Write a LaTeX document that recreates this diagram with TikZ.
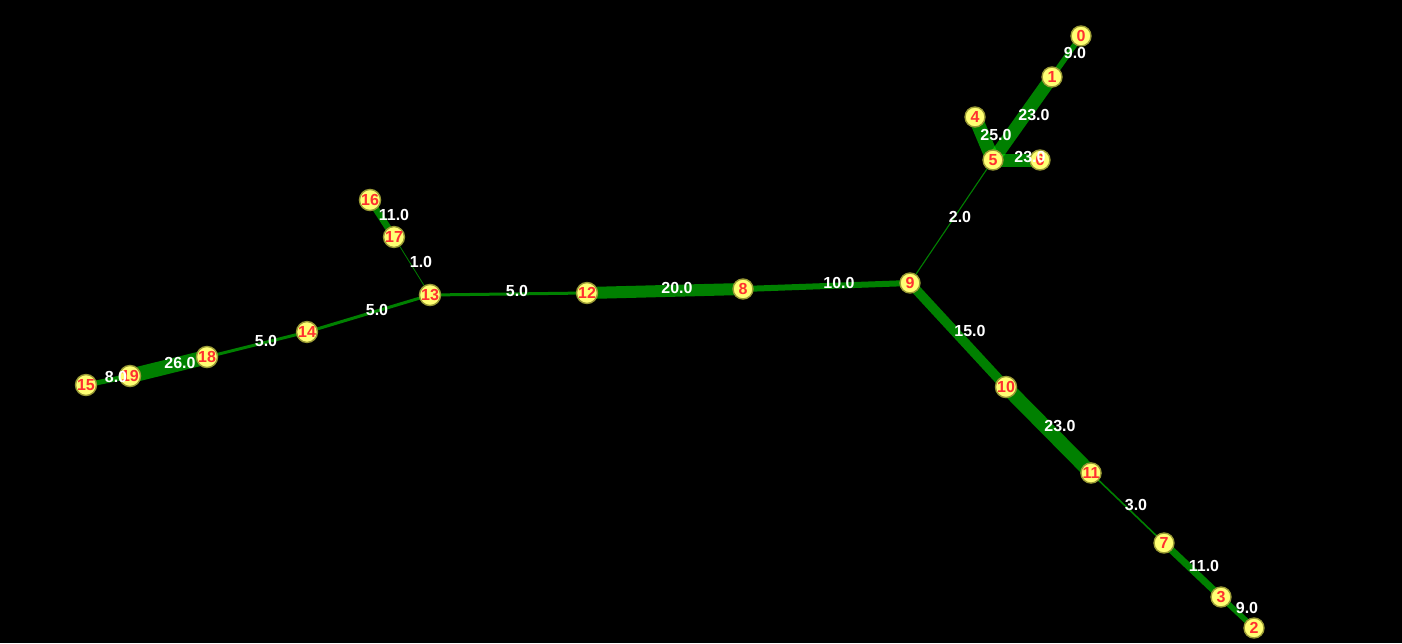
\documentclass[tikz,border=0pt]{standalone}
\usepackage{fontspec}
\setmainfont{Liberation Sans}
\usetikzlibrary{backgrounds}
\definecolor{nodefill}{HTML}{FFFF73}
\definecolor{nodeedge}{HTML}{9A9A35}
\definecolor{numred}{HTML}{FF3030}
\tikzset{
  vtx/.style={circle, fill=nodefill, draw=nodeedge, line width=1.4pt, minimum size=20pt, inner sep=0pt,
    text=numred, font=\bfseries\fontsize{16}{16}\selectfont},
  wlabel/.style={text=white, font=\bfseries\fontsize{16}{16}\selectfont, inner sep=0pt},
  edge/.style={draw={rgb,255:red,0;green,255;blue,0}, draw opacity=0.5}
}
\begin{document}
\begin{tikzpicture}[x=1pt,y=-1pt]
\useasboundingbox (0,0) rectangle (1402,643);
% vertices
\node[vtx] (n0) at (1081,36) {0};
\node[vtx] (n1) at (1052,77) {1};
\node[vtx] (n4) at (975,117) {4};
\node[vtx] (n6) at (1040,160) {6};
\node[vtx] (n5) at (993,160) {5};
\node[vtx] (n9) at (910,283) {9};
\node[vtx] (n8) at (743,289) {8};
\node[vtx] (n12) at (587,293) {12};
\node[vtx] (n13) at (430,295) {13};
\node[vtx] (n17) at (394,237) {17};
\node[vtx] (n16) at (370,200) {16};
\node[vtx] (n14) at (307,332) {14};
\node[vtx] (n18) at (207,357) {18};
\node[vtx] (n19) at (130,376) {19};
\node[vtx] (n15) at (86,385) {15};
\node[vtx] (n10) at (1006,387) {10};
\node[vtx] (n11) at (1091,473) {11};
\node[vtx] (n7) at (1164,543) {7};
\node[vtx] (n3) at (1221,597) {3};
\node[vtx] (n2) at (1254,628) {2};
% edges
\begin{scope}[on background layer]
\fill[black] (0,0) rectangle (1402,643);
\draw[edge, line width=5.4pt] (n0.center) -- (n1.center);
\draw[edge, line width=13pt] (n1.center) -- (n5.center);
\draw[edge, line width=14pt] (n4.center) -- (n5.center);
\draw[edge, line width=13pt] (n5.center) -- (n6.center);
\draw[edge, line width=1.1pt] (n5.center) -- (n9.center);
\draw[edge, line width=6pt] (n9.center) -- (n8.center);
\draw[edge, line width=12pt] (n8.center) -- (n12.center);
\draw[edge, line width=3pt] (n12.center) -- (n13.center);
\draw[edge, line width=0.8pt] (n13.center) -- (n17.center);
\draw[edge, line width=6.6pt] (n17.center) -- (n16.center);
\draw[edge, line width=3pt] (n13.center) -- (n14.center);
\draw[edge, line width=3pt] (n14.center) -- (n18.center);
\draw[edge, line width=14.5pt] (n18.center) -- (n19.center);
\draw[edge, line width=5pt] (n19.center) -- (n15.center);
\draw[edge, line width=9.5pt] (n9.center) -- (n10.center);
\draw[edge, line width=14pt] (n10.center) -- (n11.center);
\draw[edge, line width=1.6pt] (n11.center) -- (n7.center);
\draw[edge, line width=7pt] (n7.center) -- (n3.center);
\draw[edge, line width=5.4pt] (n3.center) -- (n2.center);
\end{scope}
% weight labels
\node[wlabel] (w01) at (1075,53) {9.0};
\node[wlabel] (w15) at (1034,115) {23.0};
\node[wlabel] (w45) at (996,135) {25.0};
\node[wlabel] (w56) at (1030,157) {23.0};
\node[wlabel] (w59) at (960,217) {2.0};
\node[wlabel] (w98) at (839,283) {10.0};
\node[wlabel] (w812) at (677,288) {20.0};
\node[wlabel] (w1213) at (517,291) {5.0};
\node[wlabel] (w1317) at (421,262) {1.0};
\node[wlabel] (w1716) at (394,215) {11.0};
\node[wlabel] (w1314) at (377,310) {5.0};
\node[wlabel] (w1418) at (266,341) {5.0};
\node[wlabel] (w1819) at (180,363) {26.0};
\node[wlabel] (w1915) at (116,377) {8.0};
\node[wlabel] (w910) at (970,331) {15.0};
\node[wlabel] (w1011) at (1060,426) {23.0};
\node[wlabel] (w117) at (1136,505) {3.0};
\node[wlabel] (w73) at (1204,566) {11.0};
\node[wlabel] (w32) at (1247,608) {9.0};
\end{tikzpicture}
\end{document}
